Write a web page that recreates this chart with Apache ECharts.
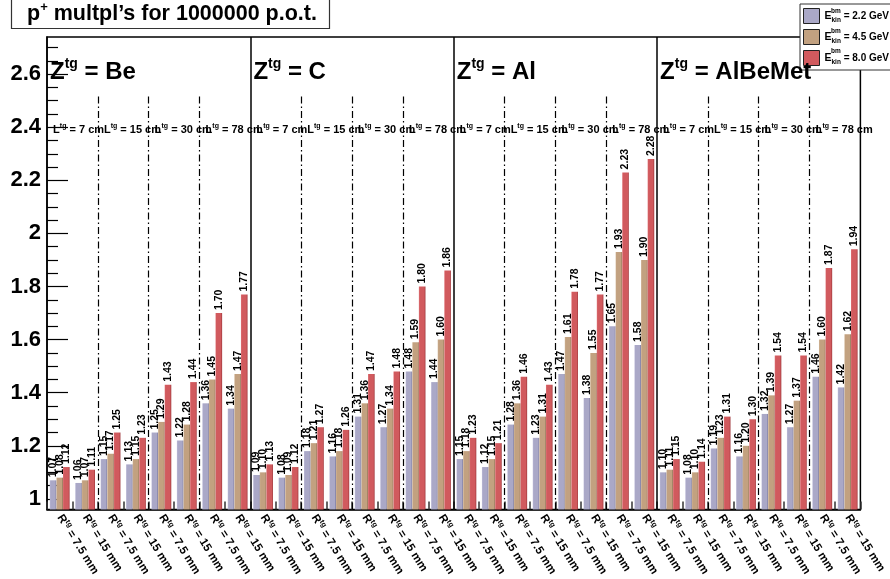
<!DOCTYPE html>
<html><head><meta charset="utf-8">
<script src="https://cdn.jsdelivr.net/npm/echarts@6/dist/echarts.min.js"></script>
<style>html,body{margin:0;padding:0;background:#fff}#c{width:890px;height:579px}</style>
</head><body><div id="c"></div>
<script>
// ---- data ----
const targets = ['Be', 'C', 'Al', 'AlBeMet'];
const lengths = [7, 15, 30, 78];          // L^tg in cm
const radii = ['7.5', '15'];             // R^tg in mm
const energies = ['2.2', '4.5', '8.0'];  // E_kin^bm in GeV
const yTicks = [1, 1.2, 1.4, 1.6, 1.8, 2, 2.2, 2.4, 2.6];
const yMinorTicks = [1.05, 1.1, 1.15, 1.25, 1.3, 1.35, 1.45, 1.5, 1.55, 1.65, 1.7, 1.75,
  1.85, 1.9, 1.95, 2.05, 2.1, 2.15, 2.25, 2.3, 2.35, 2.45, 2.5, 2.55, 2.65, 2.7];
const Y_MIN = 0.96, Y_MAX = 2.74;

// values per target, order: L7 R7.5, L7 R15, L15 R7.5, L15 R15, L30 R7.5, L30 R15, L78 R7.5, L78 R15
const BE_22 = [1.07, 1.06, 1.15, 1.13, 1.25, 1.22, 1.36, 1.34];
const BE_45 = [1.08, 1.07, 1.17, 1.15, 1.29, 1.28, 1.45, 1.47];
const BE_80 = [1.12, 1.11, 1.25, 1.23, 1.43, 1.44, 1.70, 1.77];
const C_22 = [1.09, 1.08, 1.18, 1.16, 1.31, 1.27, 1.48, 1.44];
const C_45 = [1.10, 1.09, 1.21, 1.18, 1.36, 1.34, 1.59, 1.60];
const C_80 = [1.13, 1.12, 1.27, 1.26, 1.47, 1.48, 1.80, 1.86];
const AL_22 = [1.15, 1.12, 1.28, 1.23, 1.47, 1.38, 1.65, 1.58];
const AL_45 = [1.18, 1.15, 1.36, 1.31, 1.61, 1.55, 1.93, 1.90];
const AL_80 = [1.23, 1.21, 1.46, 1.43, 1.78, 1.77, 2.23, 2.28];
const ABM_22 = [1.10, 1.08, 1.19, 1.16, 1.32, 1.27, 1.46, 1.42];
const ABM_45 = [1.11, 1.10, 1.23, 1.20, 1.39, 1.37, 1.60, 1.62];
const ABM_80 = [1.15, 1.14, 1.31, 1.30, 1.54, 1.54, 1.87, 1.94];

const E22 = [...BE_22, ...C_22, ...AL_22, ...ABM_22];
const E45 = [...BE_45, ...C_45, ...AL_45, ...ABM_45];
const E80 = [...BE_80, ...C_80, ...AL_80, ...ABM_80];
const seriesValues = [E22, E45, E80];

// ---- styling ----
const FONT = '"Liberation Sans", Arial, Helvetica, sans-serif';
const barColors = [
  { light: '#c3c1dc', main: '#aaa8c7', dark: '#77759a' },
  { light: '#d5bb9e', main: '#c2a180', dark: '#8e7053' },
  { light: '#e2797d', main: '#d15a5e', dark: '#9e3539' }
];

const categories = [];
targets.forEach(t => lengths.forEach(l => radii.forEach(r => categories.push(t + '|' + l + '|' + r))));
const nPerTarget = lengths.length * radii.length;

function grad(c) {
  return new echarts.graphic.LinearGradient(0, 0, 1, 0, [
    { offset: 0, color: c.light }, { offset: 0.14, color: c.main },
    { offset: 0.8, color: c.main }, { offset: 1, color: c.dark }
  ]);
}

const barSeries = energies.map((e, i) => ({
  name: 'E' + e,
  type: 'bar',
  data: seriesValues[i],
  barWidth: 6.6,
  barGap: '0%',
  itemStyle: { color: grad(barColors[i]) },
  label: {
    show: true, position: 'top', rotate: 90, align: 'left', verticalAlign: 'middle',
    distance: 3, fontFamily: FONT, fontWeight: 'bold', fontSize: 10.5, color: '#000',
    formatter: p => p.value.toFixed(2)
  },
  emphasis: { disabled: true },
  animation: false
}));

// separator lines
const lineData = [];
for (let g = 1; g < targets.length; g++) {
  const x = g * nPerTarget;
  lineData.push([{ coord: [x, Y_MIN], lineStyle: { color: '#000', width: 1.5, type: 'solid' } }, { coord: [x, Y_MAX] }]);
}
for (let g = 0; g < targets.length; g++) {
  for (let l = 1; l < lengths.length; l++) {
    const x = g * nPerTarget + l * radii.length;
    lineData.push([{ coord: [x, 2.516], lineStyle: { color: '#000', width: 1.2, type: [7, 3, 1.5, 3] } }, { coord: [x, Y_MIN] }]);
  }
}

const chart = echarts.init(document.getElementById('c'), null, { renderer: 'canvas' });
const option = {
  animation: false,
  backgroundColor: '#fff',
  title: {
    text: '{m|p}{s|+}{m| multpl\u2019s for 1000000 p.o.t.}',
    left: 27, top: 1, padding: 0,
    textStyle: {
      rich: {
        m: { fontFamily: FONT, fontWeight: 'bold', fontSize: 21.5, color: '#000', lineHeight: 26 },
        s: { fontFamily: FONT, fontWeight: 'bold', fontSize: 13, color: '#000', lineHeight: 13, verticalAlign: 'top' }
      }
    }
  },
  legend: {
    orient: 'vertical', left: 800, top: 4, padding: [4, 10, 4, 3],
    itemWidth: 16, itemHeight: 15, itemGap: 5, icon: 'rect',
    borderColor: '#333', borderWidth: 1, backgroundColor: '#fff',
    selectedMode: false,
    data: energies.map((e, i) => ({ name: 'E' + e, itemStyle: { color: barColors[i].main, borderColor: '#222', borderWidth: 1 } })),
    formatter: name => '{e|E}{k|kin}{t| = ' + name.slice(1) + ' GeV}',
    textStyle: {
      rich: {
        e: { fontFamily: FONT, fontWeight: 'bold', fontSize: 10.5, color: '#000', lineHeight: 15 },
        k: { fontFamily: FONT, fontWeight: 'bold', fontSize: 6.5, color: '#000', lineHeight: 7, verticalAlign: 'bottom' },
        t: { fontFamily: FONT, fontWeight: 'bold', fontSize: 10, color: '#000' }
      }
    }
  },
  grid: { left: 47, right: 27, top: 37, bottom: 65, show: true, borderColor: '#000', borderWidth: 1.5, backgroundColor: 'transparent' },
  xAxis: [{
    type: 'category', data: categories,
    axisLine: { show: true, lineStyle: { color: '#000', width: 1.5 } },
    axisTick: { show: true, inside: true, length: 8, interval: 0, lineStyle: { color: '#333', width: 1.5 } },
    axisLabel: {
      interval: 0, rotate: -58, margin: 6,
      formatter: id => '{r|R}{s|tg}{r| = ' + id.split('|')[2] + ' mm}',
      rich: {
        r: { fontFamily: FONT, fontWeight: 'bold', fontSize: 11.5, color: '#000', lineHeight: 15 },
        s: { fontFamily: FONT, fontWeight: 'bold', fontSize: 7.5, color: '#000', lineHeight: 8, verticalAlign: 'top' }
      }
    },
    splitLine: { show: false }
  }, {
    type: 'value', min: 0, max: categories.length, show: false
  }],
  yAxis: [{
    type: 'value', min: Y_MIN, max: Y_MAX,
    axisLine: { show: true, lineStyle: { color: '#000', width: 1.5 } },
    axisTick: { show: true, inside: true, length: 21, customValues: yTicks, lineStyle: { color: '#000', width: 1.2 } },
    axisLabel: {
      customValues: yTicks, margin: 6, fontFamily: FONT, fontWeight: 'bold', fontSize: 22, color: '#000',
      formatter: v => String(v)
    },
    splitLine: { show: false }
  }, {
    type: 'value', min: Y_MIN, max: Y_MAX, position: 'left',
    axisLine: { show: false },
    axisTick: { show: true, inside: true, length: 11, customValues: yMinorTicks, lineStyle: { color: '#000', width: 1.2 } },
    axisLabel: { show: false },
    splitLine: { show: false }
  }],
  series: [...barSeries, {
    type: 'line', xAxisIndex: 1, yAxisIndex: 0, data: [], silent: true, symbol: 'none',
    markLine: { symbol: ['none', 'none'], silent: true, animation: false, label: { show: false }, data: lineData },
    z: 5
  }]
};
chart.setOption(option);

// annotations placed via the axes
const gfx = [];
gfx.push({
  type: 'rect', shape: { x: 11.5, y: -2, width: 318, height: 30.5 },
  style: { fill: 'none', stroke: '#333', lineWidth: 1.2 }, z: 100, silent: true
});
targets.forEach((t, g) => {
  const p = chart.convertToPixel({ xAxisIndex: 1, yAxisIndex: 0 }, [g * nPerTarget + 0.12, 2.605]);
  gfx.push({
    type: 'text', x: p[0], y: p[1], z: 100, silent: true,
    style: {
      text: '{z|Z}{s|tg}{z| = ' + t + '}', align: 'left', verticalAlign: 'middle',
      rich: {
        z: { fontFamily: FONT, fontWeight: 'bold', fontSize: 24, fill: '#000', lineHeight: 32 },
        s: { fontFamily: FONT, fontWeight: 'bold', fontSize: 14, fill: '#000', lineHeight: 14, verticalAlign: 'top' }
      }
    }
  });
  lengths.forEach((l, li) => {
    const q = chart.convertToPixel({ xAxisIndex: 1, yAxisIndex: 0 }, [g * nPerTarget + li * radii.length + 0.24, 2.388]);
    gfx.push({
      type: 'text', x: q[0], y: q[1], z: 100, silent: true,
      style: {
        text: '{l|L}{s|tg}{l| = ' + l + ' cm}', align: 'left', verticalAlign: 'middle',
        rich: {
          l: { fontFamily: FONT, fontWeight: 'bold', fontSize: 11, fill: '#000', lineHeight: 15 },
          s: { fontFamily: FONT, fontWeight: 'bold', fontSize: 7, fill: '#000', lineHeight: 7, verticalAlign: 'top' }
        }
      }
    });
  });
});
energies.forEach((e, i) => {
  gfx.push({
    type: 'text', x: 831, y: 11.5 + 20 * i, z: 100, silent: true,
    style: { text: 'bm', font: 'bold 6.5px ' + FONT, fill: '#000', align: 'left', verticalAlign: 'middle' }
  });
});
chart.setOption({ graphic: gfx });
</script>
</body></html>
